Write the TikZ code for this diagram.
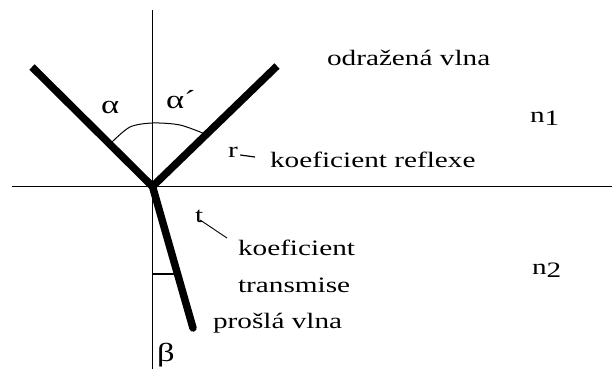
\documentclass[tikz,border=0pt]{standalone}
\usepackage{fontspec}
\setmainfont[FakeStretch=1.33]{Liberation Serif}
\begin{document}
\begin{tikzpicture}[x=1pt,y=-1pt,
  lbl/.style={inner sep=0pt,outer sep=0pt,font=\fontsize{22}{26}\selectfont},
  greek/.style={inner sep=0pt,outer sep=0pt,font=\fontsize{26}{30}\selectfont},
  ray/.style={line width=7.5pt},
  thinline/.style={line width=1.2pt},
  leader/.style={line width=0.9pt},
]
\useasboundingbox (0,0) rectangle (612,369);
\fill[white] (0,0) rectangle (612,369);
% geometry
\coordinate (O) at (152.5,186.5);
\coordinate (top) at (152.5,10);
\coordinate (bot) at (152.5,369);
\coordinate (left) at (12,186.5);
\coordinate (right) at (612,186.5);
\coordinate (inc) at (32,67);
\coordinate (refl) at (277,66);
\coordinate (trans) at (193,328);
\coordinate (b1) at (152.5,274);
\coordinate (b2) at (177.5,274);
% axes
\draw[thinline] (top) -- (bot);
\draw[thinline] (left) -- (right);
% angle arc
\draw[line width=1pt] plot[smooth] coordinates {(112,142) (130,127) (152.5,123) (180,125) (205,134)};
% beta marker
\draw[thinline] (b1) -- (b2);
% rays
\draw[ray, line join=round] (inc) -- (O) -- (refl);
\draw[ray, line cap=round] (O) -- (trans);
% labels
\node[greek,anchor=base west] (alpha) at (101,113) {α};
\node[greek,anchor=base west] (alphap) at (166,108) {α´};
\node[lbl,anchor=base west] (odr) at (327,66) {odražená vlna};
\node[lbl,anchor=base west] (n1) at (530,122) {n\raisebox{-3pt}{1}};
\node[lbl,anchor=base west] (r) at (228,157) {r};
\node[lbl,anchor=base west] (kr) at (270,167) {koeficient reflexe};
\node[lbl,anchor=base west] (n2) at (532,274) {n\raisebox{-3pt}{2}};
\node[lbl,anchor=base west] (t) at (195,222) {t};
\node[lbl,anchor=base west] (kt) at (238,255) {koeficient};
\node[lbl,anchor=base west] (tr) at (238,292) {transmise};
\node[lbl,anchor=base west] (pv) at (213,328) {prošlá vlna};
\node[greek,anchor=base west] (beta) at (157,361) {β};
% leaders
\draw[thinline] ([xshift=2.5pt,yshift=2pt]r.base east) -- ([xshift=-15pt,yshift=10pt]kr.base west);
\draw[leader] ([xshift=-3pt,yshift=2pt]t.base east) -- ([xshift=-11pt,yshift=17pt]kt.base west);
\end{tikzpicture}
\end{document}
